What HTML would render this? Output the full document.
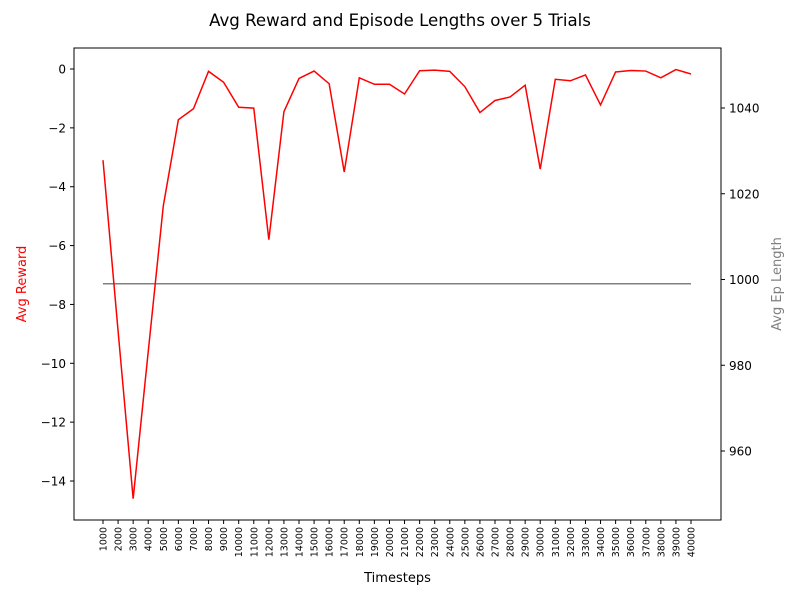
<!DOCTYPE html>
<html><head><meta charset="utf-8"><style>
body{margin:0;background:#fff;}
svg text{font-family:"DejaVu Sans","Liberation Sans",sans-serif;}
</style></head><body>
<svg id="chart" width="800" height="600" xmlns="http://www.w3.org/2000/svg">
<rect width="800" height="600" fill="#fff"/>
<text x="400" y="26" text-anchor="middle" font-size="16.6">Avg Reward and Episode Lengths over 5 Trials</text>
<g id="plot"></g>
<rect x="74" y="48" width="647" height="472" fill="none" stroke="#000" stroke-width="1"/>
<text x="397.5" y="582" text-anchor="middle" font-size="13">Timesteps</text>
<text transform="translate(26,284) rotate(-90)" text-anchor="middle" font-size="13" fill="red">Avg Reward</text>
<text transform="translate(781,284) rotate(-90)" text-anchor="middle" font-size="13" fill="gray">Avg Ep Length</text>
</svg>
<script>
const timesteps=[1000,2000,3000,4000,5000,6000,7000,8000,9000,10000,11000,12000,13000,14000,15000,16000,17000,18000,19000,20000,21000,22000,23000,24000,25000,26000,27000,28000,29000,30000,31000,32000,33000,34000,35000,36000,37000,38000,39000,40000];
const rewards=[-3.1,-8.9,-14.6,-9.6,-4.65,-1.72,-1.35,-0.08,-0.45,-1.3,-1.33,-5.8,-1.45,-0.32,-0.07,-0.5,-3.5,-0.3,-0.52,-0.52,-0.85,-0.06,-0.04,-0.08,-0.6,-1.48,-1.07,-0.95,-0.55,-3.4,-0.35,-0.4,-0.2,-1.22,-0.1,-0.05,-0.07,-0.3,-0.02,-0.17];
const epLengths=[999,999,999,999,999,999,999,999,999,999,999,999,999,999,999,999,999,999,999,999,999,999,999,999,999,999,999,999,999,999,999,999,999,999,999,999,999,999,999,999];
const leftTicks=[0,-2,-4,-6,-8,-10,-12,-14];
const rightTicks=[960,980,1000,1020,1040];
const NS="http://www.w3.org/2000/svg";
const g=document.getElementById('plot');
function x(t){return 103+(t-1000)*(588/39000);}
function yl(v){return 69-v*29.43;}
function yr(v){return 279.5-(v-1000)*4.2875;}
function mk(tag,attrs,txt){const e=document.createElementNS(NS,tag);for(const k in attrs)e.setAttribute(k,attrs[k]);if(txt!==undefined)e.textContent=txt;g.appendChild(e);return e;}
leftTicks.forEach(v=>{const y=yl(v);
 let l=mk('line',{x1:70,x2:74,y1:y,y2:y,stroke:'#000'});
 
 
 let t=mk('text',{x:66,y:y+4.5,'text-anchor':'end','font-size':12},v===0?'0':'\u2212'+Math.abs(v));
 
 });
rightTicks.forEach(v=>{const y=yr(v);
 let l=mk('line',{x1:721,x2:725,y1:y,y2:y,stroke:'#000'});
 
 
 let t=mk('text',{x:729,y:y+4.5,'font-size':12},String(v));
 
 });
timesteps.forEach(ts=>{const xx=x(ts);
 let l=mk('line',{x1:xx,x2:xx,y1:520,y2:524,stroke:'#000'});
 
 
 let t=mk('text',{transform:`translate(${xx+3.5},527) rotate(-90)`,'text-anchor':'end','font-size':9.5},String(ts));
 
 });
let p1=mk('polyline',{points:timesteps.map((t,i)=>x(t)+','+yr(epLengths[i])).join(' '),fill:'none',stroke:'gray','stroke-width':1.5});


let p2=mk('polyline',{points:timesteps.map((t,i)=>x(t)+','+yl(rewards[i])).join(' '),fill:'none',stroke:'red','stroke-width':1.5});


</script>
</body></html>
